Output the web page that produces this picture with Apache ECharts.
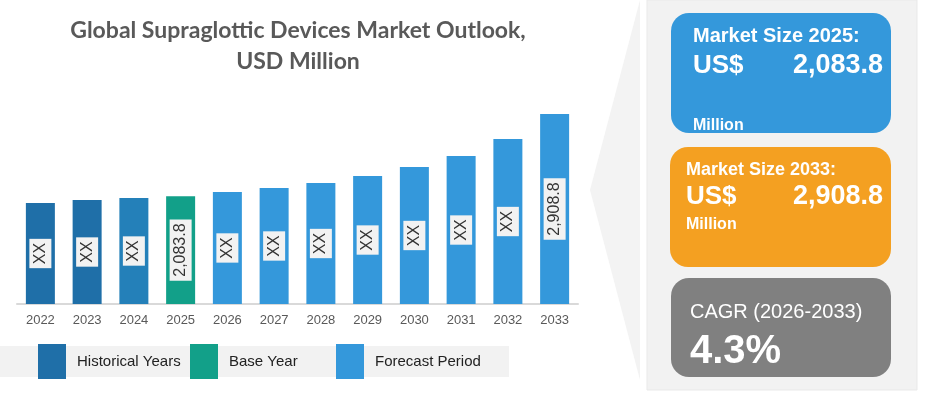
<!DOCTYPE html>
<html lang="en">
<head>
<meta charset="utf-8">
<title>Global Supraglottic Devices Market Outlook</title>
<script src="https://cdn.jsdelivr.net/npm/echarts@6/dist/echarts.min.js"></script>
<style>
  html, body { margin: 0; padding: 0; background: #fff; }
  #container { width: 942px; height: 402px; }
</style>
</head>
<body>
<div id="container"></div>
<script>
// data (USD million)
var years = ['2022', '2023', '2024', '2025', '2026', '2027', '2028', '2029', '2030', '2031', '2032', '2033'];
var marketValues = [2015, 2045, 2065, 2083.8, 2126, 2166, 2216, 2286, 2377, 2487, 2658, 2908.8];
var barLabels = ['XX', 'XX', 'XX', '2,083.8', 'XX', 'XX', 'XX', 'XX', 'XX', 'XX', 'XX', '2,908.8'];
var periodNames = ['Historical Years', 'Base Year', 'Forecast Period'];
var periodOfYear = [0, 0, 0, 1, 2, 2, 2, 2, 2, 2, 2, 2];
var periodColors = ['#1F6FA8', '#12A089', '#3498DB'];

var font = '"Liberation Sans", Arial, sans-serif';

function seriesData(p) {
  var out = [];
  for (var i = 0; i < years.length; i++) {
    if (periodOfYear[i] !== p) { out.push(null); continue; }
    var item = { value: marketValues[i], label: { formatter: barLabels[i] } };
    if (years[i] === '2024') item.itemStyle = { color: '#2480B9' };
    out.push(item);
  }
  return out;
}

var labelStyle = {
  show: true,
  position: 'inside',
  rotate: 90,
  fontFamily: font,
  fontSize: 16,
  lineHeight: 18,
  color: '#333',
  backgroundColor: '#f2f2f2',
  padding: [2, 4]
};

var series = periodNames.map(function (name, p) {
  return {
    name: name,
    type: 'bar',
    stack: 'all',
    barWidth: 29,
    itemStyle: { color: periodColors[p] },
    label: labelStyle,
    data: seriesData(p)
  };
});

var legendLeft = [38, 190, 336];
var legends = periodNames.map(function (name, p) {
  return {
    data: [name],
    left: legendLeft[p],
    top: 344,
    padding: 0,
    icon: 'rect',
    itemWidth: 28,
    itemHeight: 35,
    selectedMode: false,
    textStyle: { fontFamily: font, fontSize: 15, color: '#222', padding: [0, 0, 0, 6] }
  };
});

var white = '#fff';
var graphics = [
  // legend band
  { type: 'rect', shape: { x: 0, y: 346, width: 509, height: 31 }, style: { fill: '#f2f2f2' }, z: -1 },
  // right side panel
  { type: 'polygon', shape: { points: [[640, 0], [590, 190], [640, 380]] }, style: { fill: '#f3f3f3' } },
  { type: 'rect', shape: { x: 647, y: 0, width: 270, height: 390 }, style: { fill: '#f2f2f2', stroke: '#e9e9e9', lineWidth: 1 } },
  // boxes
  { type: 'rect', shape: { x: 671, y: 13, width: 220, height: 120, r: 18 }, style: { fill: '#3498DB' } },
  { type: 'rect', shape: { x: 670, y: 147, width: 221, height: 120, r: 18 }, style: { fill: '#F4A021' } },
  { type: 'rect', shape: { x: 671, y: 278, width: 220, height: 99, r: 18 }, style: { fill: '#808080' } },
  // box texts
  { type: 'text', x: 693, y: 36, style: { text: 'Market Size 2025:', fill: white, font: 'bold 20px ' + font, verticalAlign: 'middle' } },
  { type: 'text', x: 693, y: 66, style: { text: 'US$', fill: white, font: 'bold 26px ' + font, verticalAlign: 'middle' } },
  { type: 'text', x: 883, y: 66, style: { text: '2,083.8', fill: white, font: 'bold 27px ' + font, align: 'right', verticalAlign: 'middle' } },
  { type: 'text', x: 693, y: 126, style: { text: 'Million', fill: white, font: 'bold 16px ' + font, verticalAlign: 'middle' } },
  { type: 'text', x: 686, y: 170, style: { text: 'Market Size 2033:', fill: white, font: 'bold 18px ' + font, verticalAlign: 'middle' } },
  { type: 'text', x: 686, y: 197, style: { text: 'US$', fill: white, font: 'bold 26px ' + font, verticalAlign: 'middle' } },
  { type: 'text', x: 883, y: 197, style: { text: '2,908.8', fill: white, font: 'bold 27px ' + font, align: 'right', verticalAlign: 'middle' } },
  { type: 'text', x: 686, y: 225, style: { text: 'Million', fill: white, font: 'bold 16px ' + font, verticalAlign: 'middle' } },
  { type: 'text', x: 690, y: 312, style: { text: 'CAGR (2026-2033)', fill: white, font: '20px ' + font, verticalAlign: 'middle' } },
  { type: 'text', x: 690, y: 352, style: { text: '4.3%', fill: white, font: 'bold 40px ' + font, verticalAlign: 'middle' } }
];

var myChart = echarts.init(document.getElementById('container'));
var option = {
  backgroundColor: '#fff',
  animation: false,
  title: {
    text: 'Global Supraglottic Devices Market Outlook,\nUSD Million',
    left: 293,
    textAlign: 'center',
    top: 10,
    textStyle: { fontFamily: 'Lato, "Open Sans", sans-serif', fontSize: 23, fontWeight: 'bold', color: '#595959', lineHeight: 31 }
  },
  legend: legends,
  grid: { left: 17, right: 364, top: 105, bottom: 98 },
  xAxis: {
    type: 'category',
    data: years,
    axisLine: { lineStyle: { color: '#d9d9d9', width: 2 } },
    axisTick: { show: false },
    axisLabel: { fontFamily: font, fontSize: 13, color: '#595959', margin: 10 }
  },
  yAxis: {
    type: 'value',
    min: 1000,
    max: 3000,
    show: false
  },
  graphic: graphics,
  series: series
};
myChart.setOption(option);
</script>
</body>
</html>
